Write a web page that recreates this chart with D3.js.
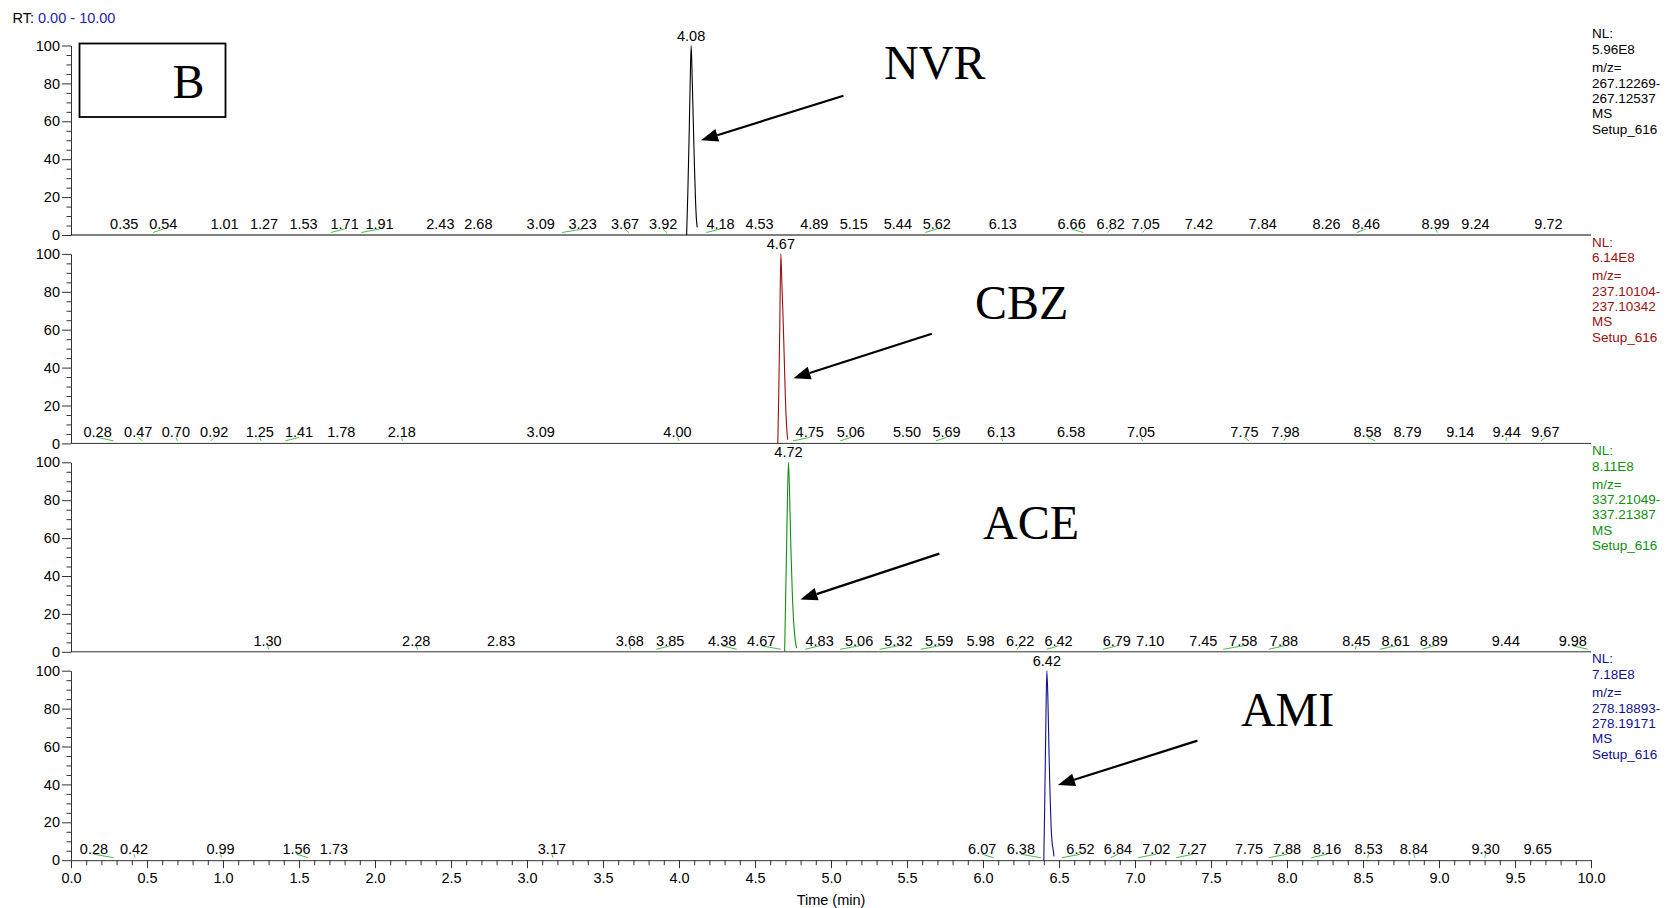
<!DOCTYPE html>
<html>
<head>
<meta charset="utf-8">
<script src="https://cdn.jsdelivr.net/npm/d3@7"></script>
<style>
  body { margin: 0; background: #fff; }
  svg { display: block; }
  text { font-family: "Liberation Sans", Arial, sans-serif; }
</style>
</head>
<body>
<svg id="chart" width="1666" height="908"></svg>
<script>
// ---- Extracted ion chromatograms, RT 0-10 min ----
const rtRange = [0, 10];
const rtMajorTicks = d3.range(0, 10.001, 0.5);
const rtMinorTicks = d3.range(0, 10.001, 0.1);
const abundTicks = [0, 20, 40, 60, 80, 100];
const abundMinorTicks = [5, 10, 15, 25, 30, 35, 45, 50, 55, 65, 70, 75, 85, 90, 95];

const compounds = ["NVR", "CBZ", "ACE", "AMI"];
const traceColors = ["#000000", "#9a0f0f", "#109010", "#10108f"];
const nlValues = ["5.96E8", "6.14E8", "8.11E8", "7.18E8"];
const mzLow = ["267.12269-", "237.10104-", "337.21049-", "278.18893-"];
const mzHigh = ["267.12537", "237.10342", "337.21387", "278.19171"];
const scanMode = "MS";
const scanFilter = "Setup_616";
const apexRT = [4.08, 4.67, 4.72, 6.42];

// Peak profiles: retention time (min) and relative abundance (%)
const nvrTime  = [4.050, 4.058, 4.066, 4.073, 4.080, 4.087, 4.094, 4.101, 4.108, 4.114, 4.120];
const nvrAbund = [0, 22, 50, 78, 100, 82, 60, 38, 20, 9, 4];
const cbzTime  = [4.650, 4.656, 4.663, 4.670, 4.677, 4.684, 4.692, 4.700, 4.708, 4.715];
const cbzAbund = [0, 25, 62, 100, 84, 68, 46, 24, 9, 2];
const aceTime  = [4.695, 4.702, 4.710, 4.720, 4.728, 4.736, 4.745, 4.755, 4.765, 4.774];
const aceAbund = [0, 30, 65, 100, 82, 55, 32, 15, 6, 2];
const amiTime  = [6.400, 6.407, 6.414, 6.420, 6.427, 6.434, 6.441, 6.448, 6.455, 6.461, 6.467];
const amiAbund = [0, 35, 75, 100, 85, 58, 35, 18, 9, 6, 2];

// Minor peaks picked along each baseline, and the RT where each label is printed
const nvrMinorRT    = [0.35, 0.54, 1.01, 1.27, 1.53, 1.71, 1.91, 2.43, 2.68, 3.09, 3.23, 3.67, 3.92, 4.18, 4.53, 4.89, 5.15, 5.44, 5.62, 6.13, 6.66, 6.82, 7.05, 7.42, 7.84, 8.26, 8.46, 8.99, 9.24, 9.72];
const nvrMinorLabel = [0.35, 0.607, 1.01, 1.27, 1.53, 1.80, 2.03, 2.43, 2.68, 3.09, 3.366, 3.645, 3.896, 4.273, 4.53, 4.89, 5.15, 5.44, 5.696, 6.13, 6.583, 6.84, 7.07, 7.42, 7.84, 8.26, 8.52, 8.977, 9.24, 9.72];
const cbzMinorRT    = [0.28, 0.47, 0.70, 0.92, 1.25, 1.41, 1.78, 2.18, 3.09, 4.00, 4.75, 5.06, 5.50, 5.69, 6.13, 6.58, 7.05, 7.75, 7.98, 8.58, 8.79, 9.14, 9.44, 9.67];
const cbzMinorLabel = [0.175, 0.442, 0.69, 0.942, 1.242, 1.50, 1.778, 2.176, 3.09, 3.99, 4.86, 5.13, 5.50, 5.76, 6.12, 6.58, 7.04, 7.72, 7.99, 8.53, 8.793, 9.14, 9.445, 9.70];
const aceMinorRT    = [1.30, 2.28, 2.83, 3.68, 3.85, 4.38, 4.67, 4.83, 5.06, 5.32, 5.59, 5.98, 6.22, 6.42, 6.79, 7.10, 7.45, 7.58, 7.88, 8.45, 8.61, 8.89, 9.44, 9.98];
const aceMinorLabel = [1.293, 2.271, 2.83, 3.676, 3.942, 4.284, 4.541, 4.925, 5.185, 5.443, 5.712, 5.984, 6.245, 6.497, 6.88, 7.10, 7.449, 7.712, 7.98, 8.456, 8.715, 8.966, 9.44, 9.88];
const amiMinorRT    = [0.28, 0.42, 0.99, 1.56, 1.73, 3.17, 6.07, 6.38, 6.52, 6.84, 7.02, 7.27, 7.75, 7.88, 8.16, 8.53, 8.84, 9.30, 9.65];
const amiMinorLabel = [0.151, 0.415, 0.984, 1.484, 1.73, 3.164, 5.995, 6.249, 6.641, 6.888, 7.14, 7.38, 7.75, 8.0, 8.264, 8.537, 8.835, 9.307, 9.649];

const peakTimes = [nvrTime, cbzTime, aceTime, amiTime];
const peakAbunds = [nvrAbund, cbzAbund, aceAbund, amiAbund];
const minorRTs = [nvrMinorRT, cbzMinorRT, aceMinorRT, amiMinorRT];
const minorLabels = [nvrMinorLabel, cbzMinorLabel, aceMinorLabel, amiMinorLabel];

// ---- Layout ----
const svg = d3.select("#chart");
const plotLeft = 71, plotRight = 1591;
const firstBase = 235, panelPitch = 208.4, panelHeight = 189.5;
const axisColor = "#333";
const fs = "14.5px";

const x = d3.scaleLinear().domain(rtRange).range([plotLeft, plotRight]);

// Callout placement per trace, in (RT, %) of its own panel
const callouts = [
  { text: [5.349, 82.1], tail: [5.082, 73.5], tip: [4.145, 50.0] },
  { text: [5.947, 65.8], tail: [5.663, 57.9], tip: [4.753, 34.4] },
  { text: [6.000, 59.7], tail: [5.713, 51.8], tip: [4.799, 27.6] },
  { text: [7.697, 71.0], tail: [7.411, 63.1], tip: [6.493, 39.7] }
];

// Range header
const header = svg.append("text").attr("x", 12.5).attr("y", 22.5).style("font-size", fs);
header.append("tspan").attr("fill", "#000").text("RT: ");
header.append("tspan").attr("fill", "#2424ad").text("0.00 - 10.00");

compounds.forEach((name, i) => {
  const base = firstBase + i * panelPitch;
  const y = d3.scaleLinear().domain([0, 100]).range([base, base - panelHeight]);
  const g = svg.append("g");
  const color = traceColors[i];

  // minor y ticks
  g.append("g").attr("transform", `translate(${plotLeft},0)`)
    .call(d3.axisLeft(y).tickValues(abundMinorTicks).tickSize(4.5).tickSizeOuter(0).tickFormat(""))
    .call(a => a.select(".domain").remove())
    .call(a => a.selectAll("line").attr("stroke", axisColor));
  // major y ticks + labels
  g.append("g").attr("transform", `translate(${plotLeft},0)`)
    .call(d3.axisLeft(y).tickValues(abundTicks).tickSize(9).tickSizeOuter(0).tickPadding(2))
    .call(a => a.select(".domain").attr("stroke", axisColor))
    .call(a => a.selectAll("line").attr("stroke", axisColor))
    .call(a => a.selectAll("text").attr("fill", "#000").style("font-size", fs)
      .style("font-family", '"Liberation Sans", Arial, sans-serif'));

  // baseline / time axis
  if (i === compounds.length - 1) {
    g.append("g").attr("transform", `translate(0,${base})`)
      .call(d3.axisBottom(x).tickValues(rtMinorTicks).tickSize(5).tickSizeOuter(0).tickFormat(""))
      .call(a => a.select(".domain").remove())
      .call(a => a.selectAll("line").attr("stroke", axisColor));
    g.append("g").attr("transform", `translate(0,${base})`)
      .call(d3.axisBottom(x).tickValues(rtMajorTicks).tickSize(8).tickSizeOuter(0).tickPadding(5).tickFormat(d3.format(".1f")))
      .call(a => a.select(".domain").attr("stroke", axisColor))
      .call(a => a.selectAll("line").attr("stroke", axisColor))
      .call(a => a.selectAll("text").attr("fill", "#000").style("font-size", fs)
        .style("font-family", '"Liberation Sans", Arial, sans-serif'));
    svg.append("text").attr("x", x(5)).attr("y", 905).attr("text-anchor", "middle")
      .style("font-size", fs).attr("fill", "#000").text("Time (min)");
  } else {
    g.append("line").attr("x1", plotLeft).attr("x2", plotRight)
      .attr("y1", base).attr("y2", base).attr("stroke", i === 0 ? "#000" : axisColor);
  }

  // leaders from each minor peak to its printed label
  const minor = minorRTs[i].map((rt, k) => ({ rt, at: minorLabels[i][k] }));
  g.selectAll("line.leader").data(minor.filter(d => Math.abs(d.at - d.rt) > 0.004))
    .join("line").attr("class", "leader")
    .attr("x1", d => x(d.rt)).attr("y1", base - 2.5)
    .attr("x2", d => x(d.at)).attr("y2", base - 6)
    .attr("stroke", "#4dbb4d").attr("stroke-width", 1);
  g.selectAll("text.minor").data(minor).join("text").attr("class", "minor")
    .attr("x", d => x(d.at)).attr("y", base - 6).attr("text-anchor", "middle")
    .style("font-size", fs).attr("fill", "#000").text(d => d.rt.toFixed(2));

  // chromatographic peak
  const pts = peakTimes[i].map((t, k) => [t, peakAbunds[i][k]]);
  g.append("path").datum(pts)
    .attr("d", d3.line().x(d => x(d[0])).y(d => y(d[1])).curve(d3.curveMonotoneX))
    .attr("fill", "none").attr("stroke", color).attr("stroke-width", 1.1);
  g.append("text").attr("x", x(apexRT[i])).attr("y", y(100) - 5).attr("text-anchor", "middle")
    .style("font-size", fs).attr("fill", "#000").text(apexRT[i].toFixed(2));

  // header block on the right
  const info = ["NL:", nlValues[i], "m/z=", mzLow[i], mzHigh[i], scanMode, scanFilter];
  const offs = [-12, 3.5, 21.7, 37.4, 52.4, 67.6, 83.4];
  g.selectAll("text.info").data(info).join("text").attr("class", "info")
    .attr("x", plotRight + 1).attr("y", (d, k) => y(100) + offs[k]).attr("dy", "0.35em")
    .style("font-size", "13.5px").attr("fill", color).text(d => d);

  // compound callout with arrow
  const c = callouts[i];
  g.append("text").attr("x", x(c.text[0])).attr("y", y(c.text[1]))
    .style("font-family", '"Liberation Serif", "Times New Roman", serif')
    .style("font-size", "48px").attr("fill", "#000").text(name);
  const tx = x(c.tip[0]), ty = y(c.tip[1]), sx = x(c.tail[0]), sy = y(c.tail[1]);
  const ang = Math.atan2(sy - ty, sx - tx);
  const headLen = 17, headHalf = 6.5;
  const bx = tx + headLen * Math.cos(ang), by = ty + headLen * Math.sin(ang);
  g.append("line").attr("x1", sx).attr("y1", sy).attr("x2", bx).attr("y2", by)
    .attr("stroke", "#000").attr("stroke-width", 2.2);
  const nx = -Math.sin(ang), ny = Math.cos(ang);
  g.append("path")
    .attr("d", `M${tx},${ty}L${bx + nx * headHalf},${by + ny * headHalf}L${bx - nx * headHalf},${by - ny * headHalf}Z`)
    .attr("fill", "#000");
});

// panel letter box
svg.append("rect").attr("x", 79.5).attr("y", 43.5).attr("width", 146).attr("height", 73.5)
  .attr("fill", "none").attr("stroke", "#000").attr("stroke-width", 1.8);
svg.append("text").attr("x", 172.5).attr("y", 97.5)
  .style("font-family", '"Liberation Serif", "Times New Roman", serif')
  .style("font-size", "48px").attr("fill", "#000").text("B");
</script>
</body>
</html>
